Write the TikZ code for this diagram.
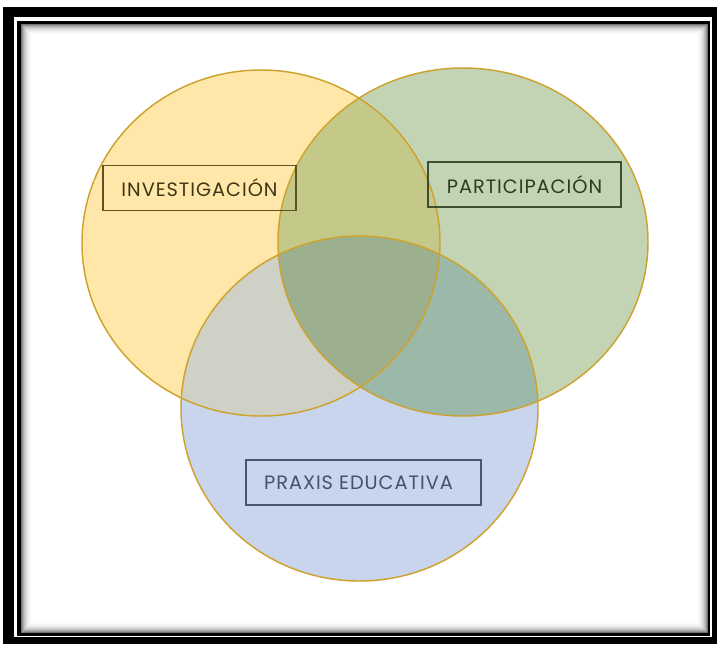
\documentclass[tikz,border=0pt]{standalone}
\usepackage{fontspec}
\setmainfont{Poppins}[LetterSpace=5]
\definecolor{cY}{HTML}{FFE7A9}
\definecolor{cG}{HTML}{C3D4B4}
\definecolor{cB}{HTML}{C9D5EC}
\definecolor{cYG}{HTML}{C4C98A}
\definecolor{cYB}{HTML}{CFD0C6}
\definecolor{cGB}{HTML}{9CB8A9}
\definecolor{cYGB}{HTML}{9CAF8F}
\definecolor{cLine}{HTML}{CDA32E}
\definecolor{invBox}{HTML}{5E5220}
\definecolor{invTxt}{HTML}{3D3514}
\definecolor{parBox}{HTML}{3E4E30}
\definecolor{parTxt}{HTML}{2E3B22}
\definecolor{praBox}{HTML}{4A5570}
\definecolor{praTxt}{HTML}{46506A}
\begin{document}
\begin{tikzpicture}[x=0.75pt,y=-0.75pt,
  labelbox/.style={draw, line width=1pt, minimum height=33.75pt, inner sep=0pt,
    font=\fontsize{14.5}{17}\selectfont},
  ring/.style={draw=cLine, line width=1.1pt}]
\useasboundingbox (0,0) rectangle (717,644);
% frame
\fill[black] (2.7,7.3) rectangle (717,644);
\fill[white] (14,17.3) rectangle (711.7,637.3);
\fill[black] (16.7,20.7) rectangle (710.3,635.7);
\fill[white] (20.7,24) rectangle (707.7,633);
\foreach \i/\o in {0/0.55,1/0.42,2/0.32,3/0.24,4/0.18,5/0.13,6/0.09,7/0.06,8/0.04,9/0.02}{
  \draw[black, opacity=\o, line width=0.75pt]
    (20.7+\i+0.5,24+\i+0.5) rectangle (707.7-\i-0.5,633-\i-0.5);
}
% Venn regions
\def\pathY{(261,243) ellipse [x radius=179, y radius=173]}
\def\pathG{(463,242) ellipse [x radius=185, y radius=174]}
\def\pathB{(359.5,408.5) ellipse [x radius=178.5, y radius=172.5]}
\fill[cY] \pathY;
\fill[cG] \pathG;
\fill[cB] \pathB;
\begin{scope}
  \clip \pathG;
  \fill[cGB] \pathB;
\end{scope}
\begin{scope}
  \clip \pathY;
  \fill[cYG] \pathG;
  \fill[cYB] \pathB;
  \clip \pathG;
  \fill[cYGB] \pathB;
\end{scope}
\draw[ring] \pathY;
\draw[ring] \pathG;
\draw[ring] \pathB;
% labels
\node[labelbox, draw=invBox, text=invTxt, minimum width=144.75pt] (inv) at (199.5,187.7) {INVESTIGACIÓN};
\node[labelbox, draw=parBox, text=parTxt, minimum width=144.75pt] (par) at (524.5,184.5) {PARTICIPACIÓN};
\node[labelbox, draw=praBox, text=praTxt, minimum width=176.25pt] (pra) at (363.5,482.5) {PRAXIS EDUCATIVA\kern7.5pt\null};
\end{tikzpicture}
\end{document}
